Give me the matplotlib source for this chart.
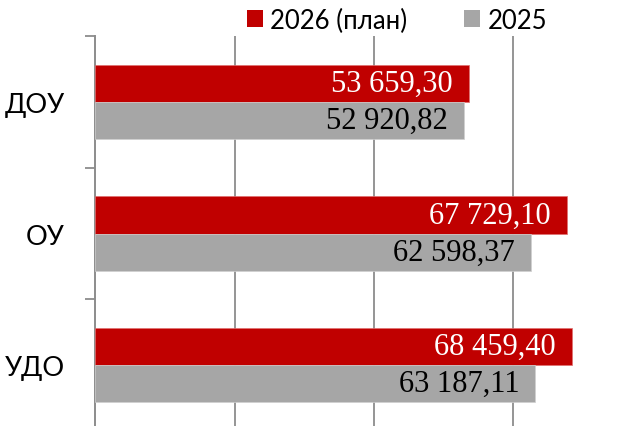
import matplotlib
matplotlib.use("Agg")
import matplotlib.pyplot as plt
from matplotlib.patches import Patch
import numpy as np

categories = ["ДОУ", "ОУ", "УДО"]
plan_2026 = [53659.30, 67729.10, 68459.40]
fact_2025 = [52920.82, 62598.37, 63187.11]
series_names = ["2026 (план)", "2025"]

RED = "#C00000"
GRAY = "#A6A6A6"
AXIS_GRAY = "#8C8C8C"
VALUE_FONT = dict(family="Liberation Serif", fontsize=22)


def fmt(v):
    s = f"{v:,.2f}"
    return s.replace(",", " ").replace(".", ",")


W, H = 644, 427
fig = plt.figure(figsize=(W / 100, H / 100), dpi=100)

xmax = 79000
px_per_unit = 139.2 / 20000
left_px = 95.5
top_px = 37.3
bottom_px = 431.8
ax = fig.add_axes([left_px / W, (H - bottom_px) / H,
                   xmax * px_per_unit / W, (bottom_px - top_px) / H])

y = np.arange(len(categories))
h = 0.284
ax.barh(y - h / 2, plan_2026, height=h, color=RED, edgecolor="#E07070",
        linewidth=0.5, zorder=3)
ax.barh(y + h / 2, fact_2025, height=h, color=GRAY, edgecolor="#D0D0D0",
        linewidth=0.5, zorder=3)

label_pad = 2300
for yi, v in zip(y, plan_2026):
    ax.text(v - label_pad, yi - h / 2, fmt(v), ha="right", va="center",
            color="white", zorder=4, **VALUE_FONT)
for yi, v in zip(y, fact_2025):
    ax.text(v - label_pad, yi + h / 2, fmt(v), ha="right", va="center",
            color="black", zorder=4, **VALUE_FONT)

ax.set_xlim(0, xmax)
ax.set_ylim(len(categories) - 0.5, -0.5)

ax.set_xticks([20000, 40000, 60000])
ax.tick_params(axis="x", length=0, labelbottom=False)
ax.grid(axis="x", color=AXIS_GRAY, linewidth=1.3, zorder=1)

ax.set_yticks(y)
ax.set_yticklabels(categories, family="Lato", fontsize=19.5)
ax.tick_params(axis="y", which="major", length=0, pad=22)
ax.set_yticks(np.arange(-0.5, len(categories) + 0.5, 1), minor=True)
ax.tick_params(axis="y", which="minor", length=7, width=1.3, color=AXIS_GRAY)

for side in ("top", "right", "bottom"):
    ax.spines[side].set_visible(False)
ax.spines["left"].set_color(AXIS_GRAY)
ax.spines["left"].set_linewidth(1.4)

handles = [Patch(facecolor=RED), Patch(facecolor=GRAY)]
fig.legend(handles, series_names, ncol=2, frameon=False,
           loc="center left", bbox_to_anchor=(246.5 / W, 1 - 21 / H),
           prop={"family": "Lato", "size": 18.5},
           handlelength=0.63, handleheight=0.63, handletextpad=0.3,
           columnspacing=2.2, borderpad=0, borderaxespad=0)

fig.savefig("out.png", dpi=100)
